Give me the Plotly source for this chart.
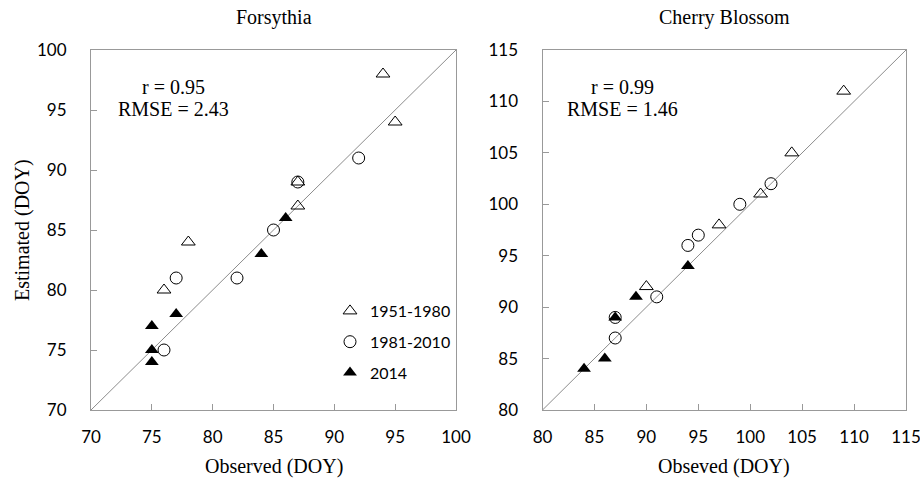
import plotly.graph_objects as go

# Forsythia (left)
fo_obs_5180 = [94, 95, 87, 87, 78, 76]
fo_est_5180 = [98, 94, 89, 87, 84, 80]
fo_obs_8110 = [92, 87, 85, 77, 82, 76]
fo_est_8110 = [91, 89, 85, 81, 81, 75]
fo_obs_2014 = [86, 84, 77, 75, 75, 75]
fo_est_2014 = [86, 83, 78, 77, 75, 74]

# Cherry Blossom (right)
cb_obs_5180 = [109, 104, 101, 97, 90]
cb_est_5180 = [111, 105, 101, 98, 92]
cb_obs_8110 = [102, 99, 95, 94, 91, 87, 87]
cb_est_8110 = [102, 100, 97, 96, 91, 89, 87]
cb_obs_2014 = [94, 89, 87, 86, 84]
cb_est_2014 = [94, 91, 89, 85, 84]

fo_range = [70, 100]
cb_range = [80, 115]
fo_ticks = [70, 75, 80, 85, 90, 95, 100]
cb_ticks = [80, 85, 90, 95, 100, 105, 110, 115]

series_names = ["1951-1980", "1981-2010", "2014"]

serif = "Liberation Serif, Times New Roman, serif"
sans = "Lato, Carlito, sans-serif"

fig = go.Figure()

def add_panel(xa, ya, data, rng, show):
    # 1:1 line
    fig.add_trace(go.Scatter(x=rng, y=rng, mode="lines", xaxis=xa, yaxis=ya,
                             line=dict(color="#8c8c8c", width=1), showlegend=False,
                             hoverinfo="skip"))
    styles = [
        dict(symbol="triangle-up-open", color="black", size=12, line=dict(width=1, color="black")),
        dict(symbol="circle-open", color="black", size=12, line=dict(width=1, color="black")),
        dict(symbol="triangle-up", color="black", size=12, line=dict(width=0)),
    ]
    for (xs, ys), name, st in zip(data, series_names, styles):
        fig.add_trace(go.Scatter(x=xs, y=ys, mode="markers", name=name, xaxis=xa, yaxis=ya,
                                 marker=st, showlegend=show, legendgroup=name))

add_panel("x", "y", [(fo_obs_5180, fo_est_5180), (fo_obs_8110, fo_est_8110),
                     (fo_obs_2014, fo_est_2014)], fo_range, True)
add_panel("x2", "y2", [(cb_obs_5180, cb_est_5180), (cb_obs_8110, cb_est_8110),
                       (cb_obs_2014, cb_est_2014)], cb_range, False)

axis_common = dict(showline=True, linecolor="#999999", linewidth=1, mirror=True,
                   ticks="inside", ticklen=6, tickcolor="#999999", showgrid=False,
                   zeroline=False, automargin=False, ticklabeloverflow="allow",
                   tickfont=dict(family=sans, size=17, color="black"))

yd = [70/480, 430/480]
fig.update_layout(
    width=920, height=480, margin=dict(l=0, r=0, t=0, b=0, autoexpand=False),
    paper_bgcolor="white", plot_bgcolor="white",
    xaxis=dict(domain=[91/920, 456/920], range=fo_range, tickvals=fo_ticks, anchor="y",
               ticklabelstandoff=12, **axis_common),
    yaxis=dict(domain=yd, range=fo_range, tickvals=fo_ticks, anchor="x",
               ticklabelstandoff=20, **axis_common),
    xaxis2=dict(domain=[542.5/920, 906/920], range=cb_range, tickvals=cb_ticks, anchor="y2",
                ticklabelstandoff=12, **axis_common),
    yaxis2=dict(domain=yd, range=cb_range, tickvals=cb_ticks, anchor="x2",
                ticklabelstandoff=20, **axis_common),
    legend=dict(x=330/920, y=(480-294)/480, xanchor="left", yanchor="top",
                font=dict(family=sans, size=16, color="black"), bgcolor="rgba(0,0,0,0)",
                tracegroupgap=7),
    showlegend=True,
)

ann = [
    dict(text="Forsythia", x=273.5/920, y=1-18/480),
    dict(text="Cherry Blossom", x=724/920, y=1-18/480),
    dict(text="r = 0.95", x=173/920, y=1-87/480),
    dict(text="RMSE = 2.43", x=173/920, y=1-109/480),
    dict(text="r = 0.99", x=622/920, y=1-87/480),
    dict(text="RMSE = 1.46", x=622/920, y=1-109/480),
    dict(text="Observed (DOY)", x=273.5/920, y=1-466/480),
    dict(text="Obseved (DOY)", x=724/920, y=1-466/480),
]
for a in ann:
    fig.add_annotation(text=a["text"], x=a["x"], y=a["y"], xref="paper", yref="paper",
                       showarrow=False, xanchor="center", yanchor="middle",
                       font=dict(family=serif, size=20, color="black"))
fig.add_annotation(text="Estimated (DOY)", x=22/920, y=1-230/480, xref="paper", yref="paper",
                   showarrow=False, xanchor="center", yanchor="middle", textangle=-90,
                   font=dict(family=serif, size=20, color="black"))

fig.write_html("out.html")
